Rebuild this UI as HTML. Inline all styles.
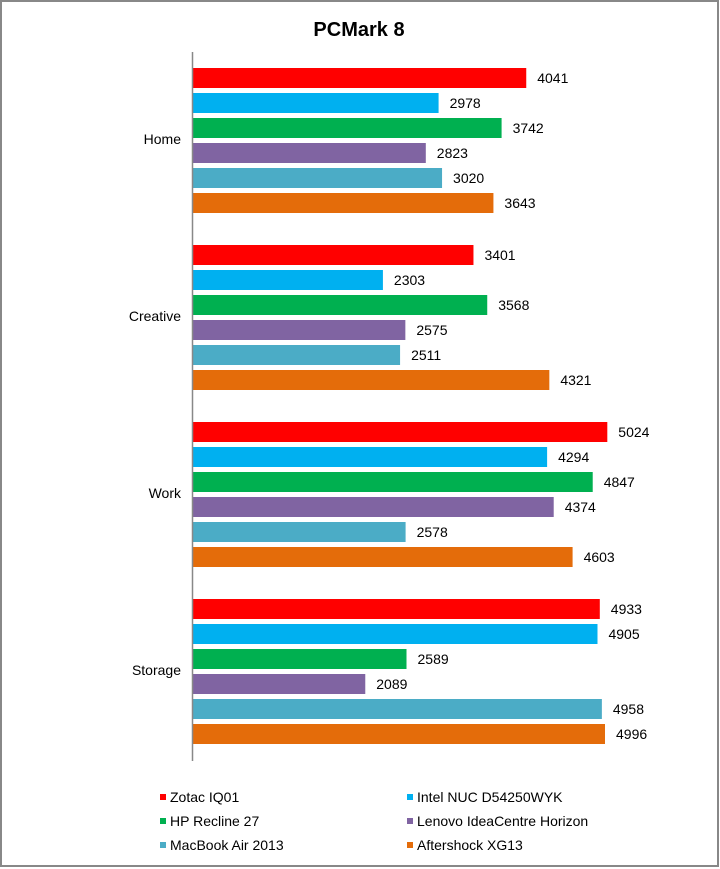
<!DOCTYPE html>
<html><head><meta charset="utf-8"><style>
html,body{margin:0;padding:0;background:#fff;}
svg{display:block;font-family:"Liberation Sans",Arial,sans-serif;}
</style></head><body>
<svg id="chart" width="720" height="869" viewBox="0 0 720 869">
<rect x="1" y="1" width="717" height="865" fill="#fff" stroke="#888" stroke-width="2"/>
<text x="359" y="36" text-anchor="middle" font-size="20" font-weight="bold" fill="#000">PCMark 8</text>
<g id="bars"></g>
<line x1="192.5" y1="52" x2="192.5" y2="761" stroke="#888" stroke-width="1.5"/>
<g id="legend"></g>
</svg>
<script>
const categories = ["Home","Creative","Work","Storage"];
const seriesNames = ["Zotac IQ01","Intel NUC D54250WYK","HP Recline 27","Lenovo IdeaCentre Horizon","MacBook Air 2013","Aftershock XG13"];
const seriesColors = ["#ff0000","#00b0f0","#00b050","#8064a2","#4bacc6","#e46c0a"];
const zotac = [4041,3401,5024,4933];
const intel = [2978,2303,4294,4905];
const hp = [3742,3568,4847,2589];
const lenovo = [2823,2575,4374,2089];
const macbook = [3020,2511,2578,4958];
const aftershock = [3643,4321,4603,4996];
const series = [zotac,intel,hp,lenovo,macbook,aftershock];

const NS="http://www.w3.org/2000/svg";
const x0=193, pxPerUnit=(605-193)/4996;
const xScale=v=>x0+v*pxPerUnit;
const groupTop=68, groupPitch=177, barPitch=25, barH=20;
const bars=document.getElementById('bars');
function mk(tag,attrs){const e=document.createElementNS(NS,tag);for(const k in attrs)e.setAttribute(k,attrs[k]);return e;}
categories.forEach((c,ci)=>{
  const gy=groupTop+ci*groupPitch;
  const lab=mk('text',{x:181,y:gy+6*barPitch/2+1,'text-anchor':'end','font-size':14,fill:'#000'});
  lab.textContent=c;
  
  
  bars.appendChild(lab);
  series.forEach((s,si)=>{
    const y=gy+si*barPitch;
    const r=mk('rect',{x:x0,y:y,width:xScale(s[ci])-x0,height:barH,fill:seriesColors[si]});
    
    
    bars.appendChild(r);
    const t=mk('text',{x:xScale(s[ci])+11,y:y+barH/2+5,'font-size':14,fill:'#000'});
    t.textContent=s[ci];
    
    
    bars.appendChild(t);
  });
});
const legend=document.getElementById('legend');
seriesNames.forEach((n,i)=>{
  const col=i%2,row=Math.floor(i/2);
  const mx=col?407:160, cy=797+row*24;
  const m=mk('rect',{x:mx,y:cy-3,width:6,height:6,fill:seriesColors[i]});
  
  
  legend.appendChild(m);
  const t=mk('text',{x:mx+10,y:cy+5,'font-size':14,fill:'#000'});
  t.textContent=n;
  
  
  legend.appendChild(t);
});
</script>
</body></html>
